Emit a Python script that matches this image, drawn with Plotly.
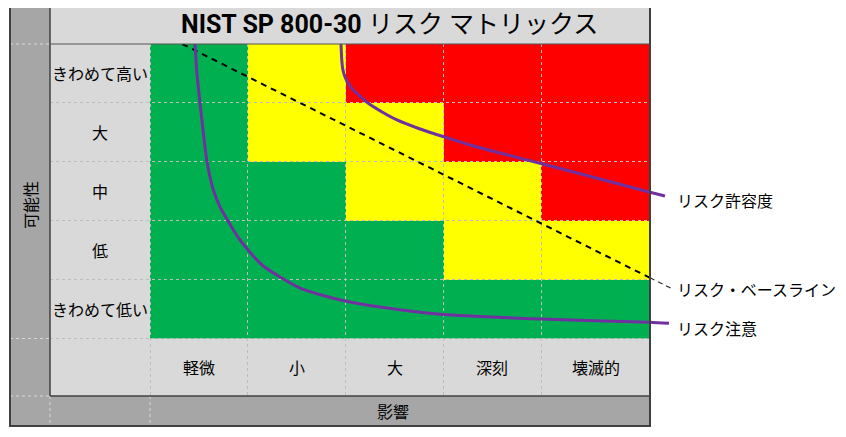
import plotly.graph_objects as go

# ---------------- data ----------------
impact = ["軽微", "小", "大", "深刻", "壊滅的"]
likelihood = ["きわめて高い", "大", "中", "低", "きわめて低い"]  # top -> bottom
risk_levels = [
    ["低", "中", "高", "高", "高"],
    ["低", "中", "中", "高", "高"],
    ["低", "低", "中", "中", "高"],
    ["低", "低", "低", "中", "中"],
    ["低", "低", "低", "低", "低"],
]
level_code = {"低": 0, "中": 1, "高": 2}

title_latin = "NIST SP 800-30"
title_jp = "リスク マトリックス"
x_title = "影響"
y_title = "可能性"
curve_names = ["リスク許容度", "リスク・ベースライン", "リスク注意"]

# curves in matrix units (x: impact columns from left edge, y: likelihood rows from bottom edge)
tolerance_x = [1.952, 1.960, 1.972, 1.993, 2.024, 2.064, 2.115, 2.228, 2.381, 2.524, 2.759, 2.994,
               3.270, 3.577, 3.996, 4.599, 5.110, 5.263]
tolerance_y = [5.000, 4.728, 4.559, 4.440, 4.338, 4.244, 4.160, 3.998, 3.837, 3.710, 3.557, 3.430,
               3.285, 3.149, 2.971, 2.708, 2.482, 2.419]
caution_x = [0.460, 0.480, 0.511, 0.545, 0.583, 0.644, 0.715, 0.797, 0.899, 1.002, 1.145, 1.329,
             1.533, 1.788, 1.993, 2.351, 2.994, 3.996, 5.110, 5.304]
caution_y = [5.000, 4.491, 3.998, 3.489, 2.997, 2.542, 2.233, 1.995, 1.723, 1.503, 1.248, 1.044,
             0.857, 0.722, 0.637, 0.535, 0.407, 0.331, 0.275, 0.258]
baseline_x = [0.33, 5.11]
baseline_y = [5.00, 1.03]
baseline_leader_x = [5.11, 5.34]
baseline_leader_y = [1.03, 0.84]

# ---------------- layout geometry ----------------
OFF = 8                       # page body margin
W, H = 846 - 2 * OFF, 437 - 2 * OFF
def px(x):
    return (x - OFF) / W
def py(y):
    return 1 - (y - OFF) / H

col_widths = [1, 1, 1, 1, 1.11]
col_edges = [0]
for w in col_widths:
    col_edges.append(col_edges[-1] + w)
col_centers = [(col_edges[i] + col_edges[i + 1]) / 2 for i in range(len(impact))]
n_rows = len(likelihood)
row_edges = list(range(n_rows + 1))

M_L, M_R, M_T, M_B = 150, 650, 44, 338.5
unit_px = (M_R - M_L) / col_edges[-1]
row_px = (M_B - M_T) / n_rows

GREEN, YELLOW, RED = "#00B050", "#FFFF00", "#FF0000"
PURPLE = "#7030A0"
LIGHT, DARK = "#D9D9D9", "#A6A6A6"
BORDER = "#404040"
FONT = "Noto Sans CJK JP"

z = [[level_code[v] for v in row] for row in reversed(risk_levels)]

fig = go.Figure()
fig.add_trace(go.Heatmap(
    x=col_edges, y=row_edges, z=z, zmin=0, zmax=2,
    colorscale=[[0, GREEN], [1 / 3, GREEN], [1 / 3, YELLOW], [2 / 3, YELLOW], [2 / 3, RED], [1, RED]],
    showscale=False, hoverinfo="skip", xaxis="x", yaxis="y",
))
fig.add_trace(go.Scatter(x=[None], y=[None], xaxis="x2", yaxis="y2", showlegend=False, hoverinfo="skip"))

fig.add_trace(go.Scatter(x=baseline_x, y=baseline_y, mode="lines", xaxis="x3", yaxis="y3",
                         line=dict(color="black", width=2, dash="6px,5px"), hoverinfo="skip", showlegend=False))
fig.add_trace(go.Scatter(x=baseline_leader_x, y=baseline_leader_y, mode="lines", xaxis="x3", yaxis="y3",
                         line=dict(color="#333333", width=1.2, dash="5px,4px"), hoverinfo="skip", showlegend=False))
fig.add_trace(go.Scatter(x=tolerance_x, y=tolerance_y, mode="lines", xaxis="x3", yaxis="y3",
                         line=dict(color=PURPLE, width=3, shape="spline", smoothing=0.5), hoverinfo="skip", showlegend=False))
fig.add_trace(go.Scatter(x=caution_x, y=caution_y, mode="lines", xaxis="x3", yaxis="y3",
                         line=dict(color=PURPLE, width=3, shape="spline", smoothing=0.5), hoverinfo="skip", showlegend=False))

hidden = dict(showticklabels=False, showline=False, zeroline=False, showgrid=False, ticks="", fixedrange=True)
fig.update_layout(
    width=W, height=H, autosize=False,
    margin=dict(l=0, r=0, t=0, b=0, pad=0),
    paper_bgcolor="white", plot_bgcolor="rgba(0,0,0,0)",
    showlegend=False,
    xaxis=dict(domain=[px(M_L), px(M_R)], range=[0, col_edges[-1]], anchor="y", **hidden),
    yaxis=dict(domain=[py(M_B), py(M_T)], range=[0, n_rows], anchor="x", **hidden),
    xaxis2=dict(domain=[px(50), px(M_R)], range=[-(M_L - 50) / unit_px, col_edges[-1]], anchor="y2",
                showticklabels=False, showline=False, zeroline=False, ticks="", fixedrange=True,
                showgrid=True, tickvals=col_edges[:-1], gridcolor="#BDBDBD", griddash="dot", gridwidth=1),
    yaxis2=dict(domain=[py(396), py(M_T)], range=[-(396 - M_B) / row_px, n_rows], anchor="x2",
                showticklabels=False, showline=False, zeroline=False, ticks="", fixedrange=True,
                showgrid=True, tickvals=row_edges[:-1], gridcolor="#BDBDBD", griddash="dot", gridwidth=1),
    xaxis3=dict(domain=[px(M_L), 1], range=[0, (OFF + W - M_L) / unit_px], anchor="y3", **hidden),
    yaxis3=dict(domain=[py(M_B), py(M_T)], range=[0, n_rows], anchor="x3", **hidden),
)

shapes = []
def rect(x0, y0, x1, y1, fill, layer="below"):
    shapes.append(dict(type="rect", xref="paper", yref="paper", x0=px(x0), x1=px(x1), y0=py(y0), y1=py(y1),
                       fillcolor=fill, line=dict(width=0), layer=layer))
def line(x0, y0, x1, y1, color, width=1, dash="solid", layer="below"):
    shapes.append(dict(type="line", xref="paper", yref="paper", x0=px(x0), x1=px(x1), y0=py(y0), y1=py(y1),
                       line=dict(color=color, width=width, dash=dash), layer=layer))

rect(50, 5, 650, 396, LIGHT)
rect(10, 5, 50, 426, DARK)
rect(50, 396, 650, 426, DARK)
for yy in (44, 338.5, 396):
    line(10, yy, 50, yy, "#D6D6D6", 1, "dot")
for xx in (50, 150):
    line(xx, 396, xx, 426, "#D6D6D6", 1, "dot")
line(50, 5, 50, 396, BORDER, 1.5, layer="above")
line(50, 396, 650, 396, BORDER, 1.5, layer="above")
line(50, 44, 650, 44, "#555555", 1.2, layer="above")
shapes.append(dict(type="rect", xref="paper", yref="paper", x0=px(10), x1=px(650), y0=py(426), y1=py(5),
                   line=dict(color=BORDER, width=2), fillcolor="rgba(0,0,0,0)", layer="above"))
fig.update_layout(shapes=shapes)

ann = []
ann.append(dict(text=f"<b>{title_latin}</b> {title_jp}", xref="paper", yref="paper", x=px(389), y=py(24),
                showarrow=False, xanchor="center", yanchor="middle",
                font=dict(family="Roboto, " + FONT, size=25, color="black")))
for i, lab in enumerate(likelihood):
    ann.append(dict(text=lab, xref="paper", yref="y", x=px(100), y=n_rows - i - 0.5, showarrow=False,
                    xanchor="center", yanchor="middle", font=dict(family=FONT, size=16, color="black")))
for c, lab in zip(col_centers, impact):
    ann.append(dict(text=lab, xref="x", yref="paper", x=c, y=py(367), showarrow=False,
                    xanchor="center", yanchor="middle", font=dict(family=FONT, size=16, color="black")))
ann.append(dict(text=x_title, xref="paper", yref="paper", x=px(393), y=py(411), showarrow=False,
                xanchor="center", yanchor="middle", font=dict(family=FONT, size=16, color="black")))
ann.append(dict(text=y_title, xref="paper", yref="paper", x=px(30), y=py(205), showarrow=False, textangle=-90,
                xanchor="center", yanchor="middle", font=dict(family=FONT, size=16, color="black")))
for name, yc in zip(curve_names, (200, 288.5, 328)):
    ann.append(dict(text=name, xref="paper", yref="paper", x=px(675), y=py(yc), showarrow=False,
                    xanchor="left", yanchor="middle", font=dict(family=FONT, size=16, color="black")))
fig.update_layout(annotations=ann)

fig.write_html("out.html")
